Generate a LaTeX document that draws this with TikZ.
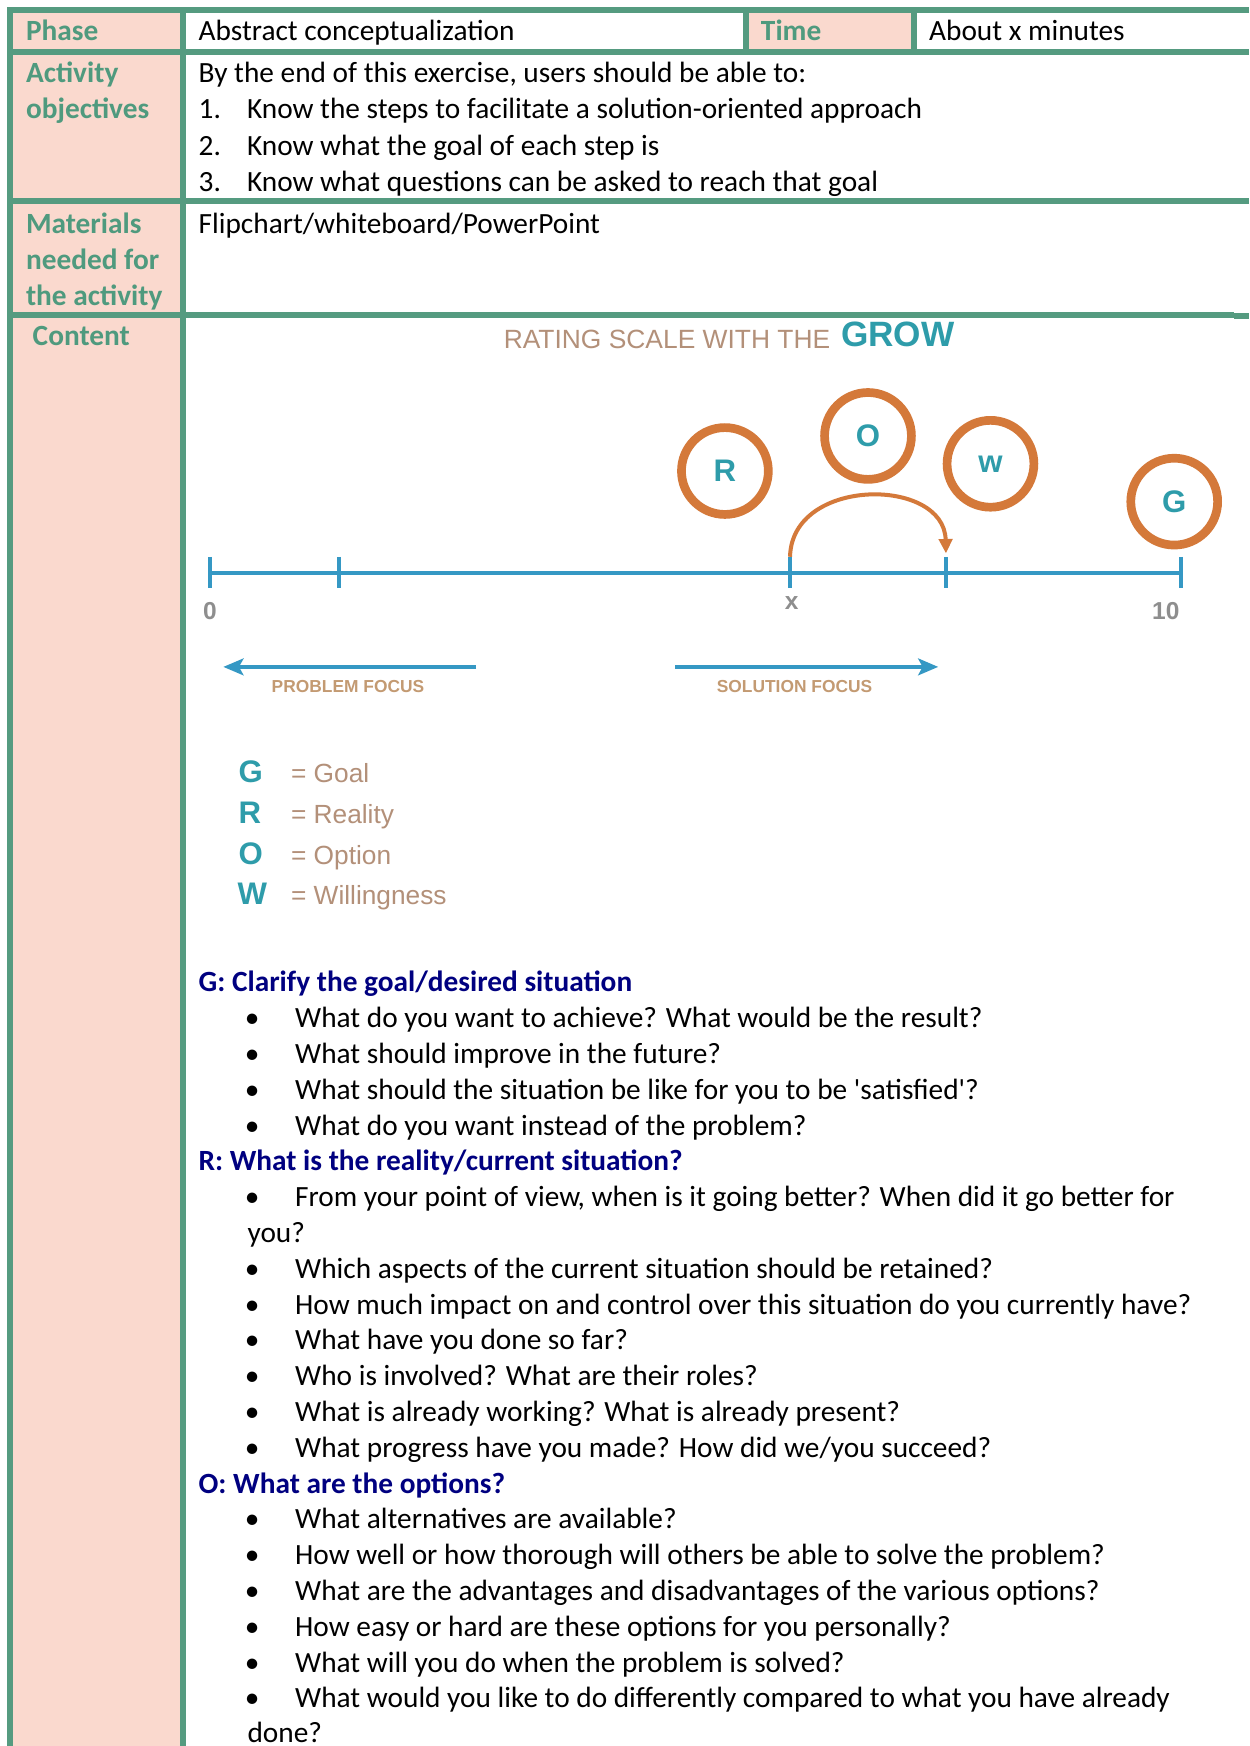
\documentclass[tikz,border=0pt]{standalone}
\usepackage{fontspec}
\setmainfont{Carlito}[Ligatures=TeXOff]
\newfontfamily\arialf{Liberation Sans}
\usetikzlibrary{arrows.meta}

\definecolor{rulegreen}{HTML}{559B80}
\definecolor{headfill}{HTML}{FAD9CE}
\definecolor{headtext}{HTML}{4F9A7E}
\definecolor{navyhead}{HTML}{000080}
\definecolor{ringorange}{HTML}{D4793A}
\definecolor{growteal}{HTML}{2E9CAA}
\definecolor{axisblue}{HTML}{3598C4}
\definecolor{tantext}{HTML}{B39079}
\definecolor{focustan}{HTML}{C39A72}
\definecolor{labelgray}{HTML}{8E8E8E}

\begin{document}
\begin{tikzpicture}[x=0.5pt,y=-0.5pt,
  txt/.style={anchor=base west,inner sep=0pt,font=\fontsize{13.17}{16.08}\selectfont},
  headcell/.style={txt,text=headtext,font=\fontsize{13.17}{16.08}\selectfont\bfseries},
  qhead/.style={txt,text=navyhead,font=\fontsize{13.17}{16.08}\selectfont\bfseries},
  bul/.style={anchor=base,inner sep=0pt,font=\fontsize{13.17}{16.08}\selectfont},
  rule/.style={draw=rulegreen,line width=2.7pt},
  ring/.style={circle,draw=ringorange,line width=3.9pt,minimum size=39pt,inner sep=0pt,
    text=growteal,font=\arialf\bfseries\fontsize{14}{14}\selectfont},
  axisline/.style={draw=axisblue,line width=1.8pt},
  focusarrow/.style={draw=axisblue,line width=1.7pt,-{Stealth[length=9pt,width=7.5pt,inset=2pt]}},
  focuslabel/.style={anchor=base,inner sep=0pt,text=focustan,font=\arialf\bfseries\fontsize{7.8}{8}\selectfont},
  axislabel/.style={anchor=center,inner sep=0pt,text=labelgray,font=\arialf\bfseries\fontsize{11}{11}\selectfont},
  keyletter/.style={anchor=base west,inner sep=0pt,text=growteal,font=\arialf\bfseries\fontsize{14}{14}\selectfont},
  keyword/.style={anchor=base west,inner sep=0pt,text=tantext,font=\arialf\fontsize{11.8}{11.8}\selectfont}
]
\useasboundingbox (0,0) rectangle (1122,1568);
\fill[white] (0,0) rectangle (1122,1568);

% shaded header cells
\fill[headfill] (11.7,11.7) rectangle (161.3,1568);
\fill[headfill] (673,11.7) rectangle (818,44);

% table rules
\draw[rule] (6.45,9) -- (1122,9);
\draw[rule] (6.45,46.7) -- (1122,46.7);
\draw[rule] (6.45,180.5) -- (1122,180.5);
\draw[rule] (6.45,282.5) -- (1108,282.5);
\draw[rule] (1108,283.5) -- (1122,283.5);
\draw[rule] (9.15,6.3) -- (9.15,1568);
\draw[rule] (164,6.3) -- (164,1568);
\draw[rule] (670.3,6.3) -- (670.3,49.4);
\draw[rule] (820.8,6.3) -- (820.8,49.4);

% row 1
\node[headcell] (hPhase) at (23,36.5) {Phase};
\node[txt] (vPhase) at (178,36.5) {Abstract conceptualization};
\node[headcell] (hTime) at (683,36.5) {Time};
\node[txt] (vTime) at (834,36.5) {About x minutes};

% row 2
\node[headcell] (hObj1) at (23,74.3) {Activity};
\node[headcell] (hObj2) at (23,106.6) {objectives};
\node[txt] (obj0) at (178,74.3) {By the end of this exercise, users should be able to:};
\node[txt] (objn1) at (178,106.6) {1.};
\node[txt] (obj1) at (221.5,106.6) {Know the steps to facilitate a solution-oriented approach};
\node[txt] (objn2) at (178,139.2) {2.};
\node[txt] (obj2) at (221.5,139.2) {Know what the goal of each step is};
\node[txt] (objn3) at (178,171.8) {3.};
\node[txt] (obj3) at (221.5,171.8) {Know what questions can be asked to reach that goal};

% row 3
\node[headcell] (hMat1) at (23,209.6) {Materials};
\node[headcell] (hMat2) at (23,241.8) {needed for};
\node[headcell] (hMat3) at (23,274) {the activity};
\node[txt] (vMat) at (178,209.6) {Flipchart/whiteboard/PowerPoint};

% row 4
\node[headcell] (hContent) at (29,310.5) {Content};

% GROW rating scale figure
\node[anchor=base west,inner sep=0pt,text=tantext,font=\arialf\fontsize{11.85}{12}\selectfont]
  (title) at (452,313) {RATING SCALE WITH THE};
\node[anchor=base west,inner sep=0pt,text=growteal,font=\arialf\bfseries\fontsize{15.8}{16}\selectfont]
  (titleGrow) at (755,311.5) {GROW};

\node[ring] (cR) at (651,423) {R};
\node[ring] (cO) at (779.5,391.5) {O};
\node[ring] (cW) at (889.5,416.5) {w};
\node[ring] (cG) at (1054.5,450.5) {G};

\coordinate (t0) at (188.6,514.2);
\coordinate (t1) at (304,514.2);
\coordinate (tx) at (709.5,514.2);
\coordinate (t2) at (849.3,514.2);
\coordinate (t10) at (1060.3,514.2);
\draw[axisline] (t0) -- (t10);
\foreach \t in {t0,t1,tx,t2,t10}
  \draw[axisline] ([yshift=7pt]\t) -- ([yshift=-7pt]\t);

\node[axislabel] (l0) at (188.6,548.5) {0};
\node[axislabel] (lx) at (711,541.7) {x};
\node[axislabel] (l10) at (1047,548.5) {10};

% jump from x to the next mark
\coordinate (jumpA) at (709.5,500);
\coordinate (jumpB) at (849.5,497);
\draw[draw=ringorange,line width=1.8pt,-{Triangle[length=6.5pt,width=6pt]}]
  (jumpA) .. controls (711,428) and (848,428) .. (jumpB);

% focus directions
\coordinate (pfStart) at (427.6,598.9);
\coordinate (pfEnd) at (200.6,598.9);
\coordinate (sfStart) at (606.4,598.9);
\coordinate (sfEnd) at (842.6,598.9);
\draw[focusarrow] (pfStart) -- (pfEnd);
\draw[focusarrow] (sfStart) -- (sfEnd);
\node[focuslabel] (pfLabel) at (312.5,622) {PROBLEM FOCUS};
\node[focuslabel] (sfLabel) at (713.5,622) {SOLUTION FOCUS};

% key
\node[keyletter] (kG) at (214,703) {G};
\node[keyletter] (kR) at (214,739.5) {R};
\node[keyletter] (kO) at (214,776) {O};
\node[keyletter] (kW) at (213,812.5) {W};
\node[keyword] (wG) at (261,703) {= Goal};
\node[keyword] (wR) at (261,739.5) {= Reality};
\node[keyword] (wO) at (261,776) {= Option};
\node[keyword] (wW) at (261,812.5) {= Willingness};

% questions per step
\node[qhead] (gHead) at (178,890.8) {G: Clarify the goal/desired situation};
\node[bul] (gb1) at (226.5,922.95) {•};
\node[txt] (g1) at (264.7,922.95) {What do you want to achieve? What would be the result?};
\node[bul] (gb2) at (226.5,955.1) {•};
\node[txt] (g2) at (264.7,955.1) {What should improve in the future?};
\node[bul] (gb3) at (226.5,987.25) {•};
\node[txt] (g3) at (264.7,987.25) {What should the situation be like for you to be 'satisfied'?};
\node[bul] (gb4) at (226.5,1019.4) {•};
\node[txt] (g4) at (264.7,1019.4) {What do you want instead of the problem?};

\node[qhead] (rHead) at (178,1051.55) {R: What is the reality/current situation?};
\node[bul] (rb1) at (226.5,1083.7) {•};
\node[txt] (r1) at (264.7,1083.7) {From your point of view, when is it going better? When did it go better for};
\node[txt] (r1b) at (221.9,1115.85) {you?};
\node[bul] (rb2) at (226.5,1148) {•};
\node[txt] (r2) at (264.7,1148) {Which aspects of the current situation should be retained?};
\node[bul] (rb3) at (226.5,1180.15) {•};
\node[txt] (r3) at (264.7,1180.15) {How much impact on and control over this situation do you currently have?};
\node[bul] (rb4) at (226.5,1212.3) {•};
\node[txt] (r4) at (264.7,1212.3) {What have you done so far?};
\node[bul] (rb5) at (226.5,1244.45) {•};
\node[txt] (r5) at (264.7,1244.45) {Who is involved? What are their roles?};
\node[bul] (rb6) at (226.5,1276.6) {•};
\node[txt] (r6) at (264.7,1276.6) {What is already working? What is already present?};
\node[bul] (rb7) at (226.5,1308.75) {•};
\node[txt] (r7) at (264.7,1308.75) {What progress have you made? How did we/you succeed?};

\node[qhead] (oHead) at (178,1340.9) {O: What are the options?};
\node[bul] (ob1) at (226.5,1373.05) {•};
\node[txt] (o1) at (264.7,1373.05) {What alternatives are available?};
\node[bul] (ob2) at (226.5,1405.2) {•};
\node[txt] (o2) at (264.7,1405.2) {How well or how thorough will others be able to solve the problem?};
\node[bul] (ob3) at (226.5,1437.35) {•};
\node[txt] (o3) at (264.7,1437.35) {What are the advantages and disadvantages of the various options?};
\node[bul] (ob4) at (226.5,1469.5) {•};
\node[txt] (o4) at (264.7,1469.5) {How easy or hard are these options for you personally?};
\node[bul] (ob5) at (226.5,1501.65) {•};
\node[txt] (o5) at (264.7,1501.65) {What will you do when the problem is solved?};
\node[bul] (ob6) at (226.5,1533.8) {•};
\node[txt] (o6) at (264.7,1533.8) {What would you like to do differently compared to what you have already};
\node[txt] (o6b) at (221.9,1564.5) {done?};
\end{tikzpicture}
\end{document}
